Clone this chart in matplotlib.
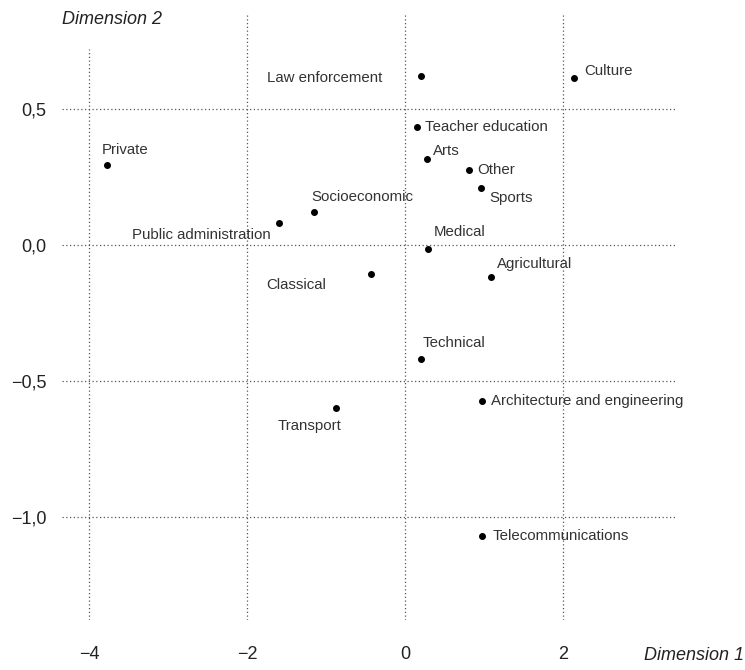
import matplotlib
matplotlib.use('Agg')
import matplotlib.pyplot as plt
from matplotlib.ticker import FuncFormatter

# Datos: coordenadas de cada campo de estudio
categorias = ['Law enforcement', 'Culture', 'Private', 'Socioeconomic',
              'Public administration', 'Classical', 'Teacher education', 'Arts',
              'Other', 'Sports', 'Medical', 'Agricultural', 'Technical',
              'Architecture and engineering', 'Transport', 'Telecommunications']
dim1 = [0.20, 2.14, -3.77, -1.15, -1.59, -0.43, 0.15, 0.28,
        0.81, 0.96, 0.29, 1.09, 0.20, 0.97, -0.87, 0.98]
dim2 = [0.62, 0.614, 0.294, 0.121, 0.081, -0.107, 0.434, 0.316,
        0.276, 0.210, -0.013, -0.116, -0.421, -0.575, -0.60, -1.07]
x_ticks = [-4, -2, 0, 2]
y_ticks = [-1.0, -0.5, 0.0, 0.5]

# Posición de las etiquetas (offset en puntos, alineación)
etiquetas_pos = {
    'Law enforcement': (-28, -1, 'right'),
    'Culture': (7, 5, 'left'),
    'Private': (-4, 11, 'left'),
    'Socioeconomic': (-2, 11, 'left'),
    'Public administration': (-6, -9, 'right'),
    'Classical': (-32, -8, 'right'),
    'Teacher education': (6, 0, 'left'),
    'Arts': (4, 6, 'left'),
    'Other': (6, 0, 'left'),
    'Sports': (6, -7, 'left'),
    'Medical': (4, 12, 'left'),
    'Agricultural': (4, 9, 'left'),
    'Technical': (1, 12, 'left'),
    'Architecture and engineering': (7, 0, 'left'),
    'Transport': (4, -13, 'right'),
    'Telecommunications': (7, 0, 'left'),
}

plt.rcParams['font.family'] = ['Liberation Sans', 'DejaVu Sans']

fig = plt.figure(figsize=(7.45, 6.70), dpi=100)
ax = fig.add_axes([62 / 745, 50 / 670, 615 / 745, 607 / 670])
ax.set_xlim(-4.342, 3.443)
ax.set_ylim(-1.379, 0.853)

for s in ax.spines.values():
    s.set_visible(False)

grid_kw = dict(color='#555555', linestyle=(0, (1, 2)), linewidth=0.9, zorder=1)
for xv in x_ticks:
    top = 0.94 if xv == -4 else 1.0
    ax.axvline(xv, ymin=0, ymax=top, **grid_kw)
for yv in y_ticks:
    ax.axhline(yv, **grid_kw)

ax.scatter(dim1, dim2, s=16, color='black', zorder=3)

for nombre, x, y in zip(categorias, dim1, dim2):
    dx, dy, ha = etiquetas_pos[nombre]
    ax.annotate(nombre, (x, y), xytext=(dx, dy), textcoords='offset points',
                ha=ha, va='center', fontsize=10.8, color='#333333')

ax.set_xticks(x_ticks)
ax.set_yticks(y_ticks)
ax.xaxis.set_major_formatter(FuncFormatter(lambda v, p: f'{v:.0f}'.replace('-', '\u2212')))
ax.yaxis.set_major_formatter(FuncFormatter(
    lambda v, p: f'{v:.1f}'.replace('.', ',').replace('-', '\u2212')))
ax.tick_params(length=0, labelsize=13, colors='#222222')
ax.tick_params(axis='x', pad=19)
ax.tick_params(axis='y', pad=11)

fig.text(62 / 745, 1 - 20 / 670, 'Dimension 2', fontsize=13, style='italic',
         color='#222222', va='center', ha='left')
fig.text(744 / 745, 1 - 656 / 670, 'Dimension 1', fontsize=13, style='italic',
         color='#222222', va='center', ha='right')

fig.savefig('out.png', dpi=100)
